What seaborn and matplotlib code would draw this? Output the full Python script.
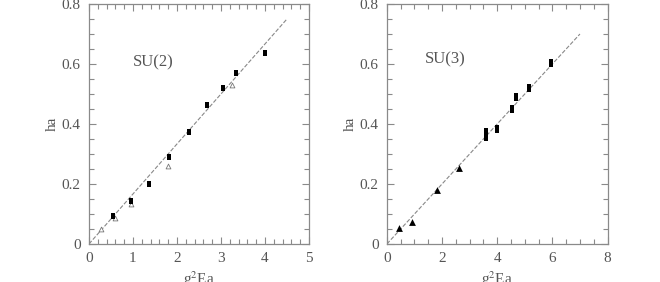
import numpy as np
import pandas as pd
import seaborn as sns
import matplotlib.pyplot as plt
from matplotlib.ticker import MultipleLocator, FuncFormatter

# SU(2) panel
su2_sq_x = [0.55, 0.95, 1.36, 1.82, 2.28, 2.69, 3.04, 3.34, 4.00]
su2_sq_y = [0.093, 0.143, 0.201, 0.289, 0.372, 0.462, 0.520, 0.571, 0.637]
su2_tri_x = [0.27, 0.59, 0.95, 1.80, 3.24]
su2_tri_y = [0.049, 0.088, 0.133, 0.260, 0.530]
su2_fit_x = [0.0, 4.5]
su2_fit_y = [0.0, 0.75]

# SU(3) panel
su3_sq_x = [3.60, 3.60, 4.01, 4.55, 4.68, 5.14, 5.94]
su3_sq_y = [0.356, 0.372, 0.382, 0.449, 0.491, 0.521, 0.603]
su3_tri_x = [0.45, 0.92, 1.81, 2.63]
su3_tri_y = [0.052, 0.073, 0.179, 0.254]
su3_fit_x = [0.0, 7.0]
su3_fit_y = [0.0, 0.70]

TEXT = '#555555'
EDGE = '#8a8a8a'
RECT = [(-0.33, -0.5), (0.33, -0.5), (0.33, 0.5), (-0.33, 0.5), (-0.33, -0.5)]


def style_axis(ax, xmax, xmaj, xmin):
    ax.set_xlim(0, xmax)
    ax.set_ylim(0, 0.8)
    ax.xaxis.set_major_locator(MultipleLocator(xmaj))
    ax.xaxis.set_minor_locator(MultipleLocator(xmin))
    ax.yaxis.set_major_locator(MultipleLocator(0.2))
    ax.yaxis.set_minor_locator(MultipleLocator(0.05))
    ax.xaxis.set_major_formatter(FuncFormatter(lambda v, p: f'{v:g}'))
    ax.yaxis.set_major_formatter(FuncFormatter(lambda v, p: f'{v:g}'))
    ax.tick_params(which='both', direction='in', top=True, right=True,
                   colors=EDGE, labelcolor=TEXT, labelsize=11, width=0.8)
    ax.tick_params(which='major', length=5, pad=6)
    ax.tick_params(which='minor', length=3.5)
    for s in ax.spines.values():
        s.set_color(EDGE)
        s.set_linewidth(0.9)
    ax.set_xlabel('g$^2$Ea', color=TEXT, fontsize=11, labelpad=3)
    ax.set_ylabel('ha', color=TEXT, fontsize=11, labelpad=2)


def main():
    sns.set_style('ticks')
    plt.rcParams['font.family'] = ['Liberation Serif', 'DejaVu Serif']
    plt.rcParams['mathtext.fontset'] = 'stix'

    fig = plt.figure(figsize=(6.6, 2.82), dpi=100)
    ax1 = fig.add_axes([0.1348, 0.1348, 0.3333, 0.851])
    ax2 = fig.add_axes([0.5862, 0.1348, 0.3343, 0.851])

    # left panel
    sns.lineplot(x=su2_fit_x, y=su2_fit_y, ax=ax1, color='#888888',
                 lw=0.8, dashes=(5, 4), linestyle='--')
    sns.scatterplot(x=su2_tri_x, y=su2_tri_y, ax=ax1, marker='^', s=12,
                    facecolor='white', edgecolor='#777777', linewidth=0.6, zorder=3)
    sns.scatterplot(x=su2_sq_x, y=su2_sq_y, ax=ax1, marker=RECT, s=22,
                    color='black', linewidth=0, zorder=4)
    ax1.text(1.0, 0.607, 'SU(2)', color=TEXT, fontsize=12, va='center')
    style_axis(ax1, 5, 1, 0.2)

    # right panel
    sns.lineplot(x=su3_fit_x, y=su3_fit_y, ax=ax2, color='#888888',
                 lw=0.8, dashes=(5, 4), linestyle='--')
    sns.scatterplot(x=su3_tri_x, y=su3_tri_y, ax=ax2, marker='^', s=24,
                    color='black', linewidth=0, zorder=3)
    sns.scatterplot(x=su3_sq_x, y=su3_sq_y, ax=ax2, marker=RECT, s=28,
                    color='black', linewidth=0, zorder=4)
    ax2.text(1.38, 0.617, 'SU(3)', color=TEXT, fontsize=12, va='center')
    style_axis(ax2, 8, 2, 0.5)

    fig.savefig('out.png', dpi=100)


if __name__ == '__main__':
    main()
